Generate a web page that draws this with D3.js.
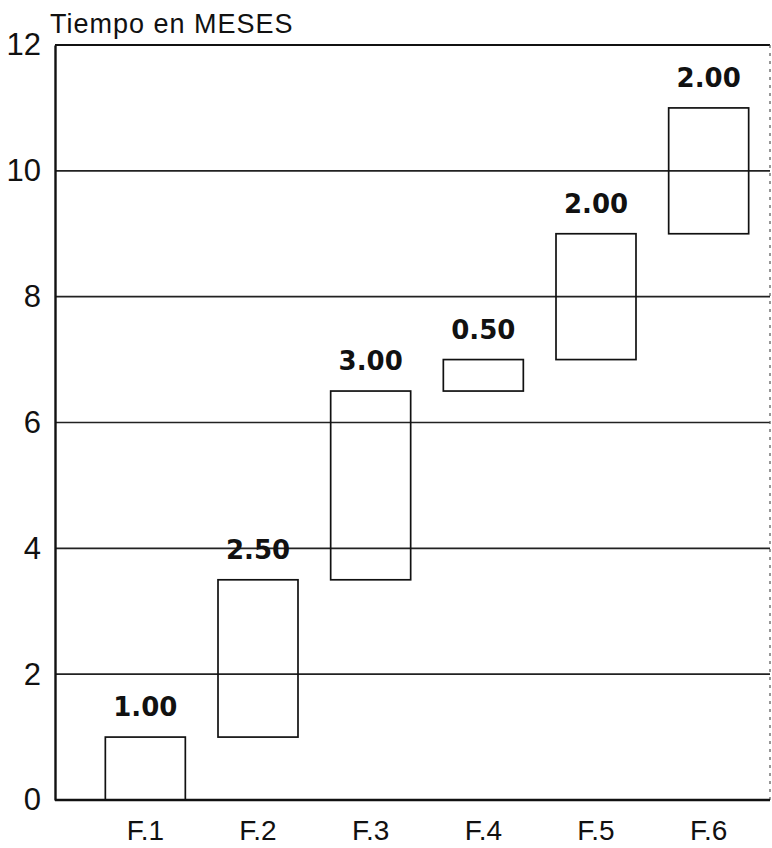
<!DOCTYPE html>
<html>
<head>
	<meta charset="utf-8">
	<script src="https://d3js.org/d3.v7.min.js"></script>
	<title>Tiempo en MESES</title>
	<style>
		body { margin: 0; background: #fff; }
	</style>
</head>
<body>
	<div id="chart"></div>

	<script type="text/javascript">
		// data
		var phases = ["F.1", "F.2", "F.3", "F.4", "F.5", "F.6"];
		var starts = [0, 1, 3.5, 6.5, 7, 9];
		var durations = [1, 2.5, 3, 0.5, 2, 2];
		var durationLabels = ["1.00", "2.50", "3.00", "0.50", "2.00", "2.00"];
		var yTicks = [0, 2, 4, 6, 8, 10, 12];

		var svgwidth = 772;
		var svgheight = 848;
		var margin = {top: 45, right: 2, bottom: 48, left: 55};
		var width = svgwidth - margin.left - margin.right;
		var height = svgheight - margin.top - margin.bottom;

		var svg = d3.select("#chart").append("svg")
			.attr("width", svgwidth)
			.attr("height", svgheight);

		var g = svg.append("g")
			.attr("transform", "translate(" + margin.left + "," + margin.top + ")");

		var x = d3.scaleBand()
			.domain(phases)
			.range([34, 710])
			.paddingInner(0.29)
			.paddingOuter(0.145);

		var y = d3.scaleLinear()
			.domain([0, 12])
			.range([height, 0]);

		// gridlines
		g.selectAll(".grid")
			.data(yTicks.filter(function(d){ return d > 0 && d < 12; }))
			.enter().append("line")
			.attr("class", "grid")
			.attr("x1", 0)
			.attr("x2", width)
			.attr("y1", function(d){ return y(d); })
			.attr("y2", function(d){ return y(d); })
			.attr("stroke", "#222")
			.attr("stroke-width", 1.6);

		// frame: top, left, bottom solid, right dashed
		g.append("line").attr("x1", 0).attr("x2", width).attr("y1", y(12)).attr("y2", y(12))
			.attr("stroke", "#111").attr("stroke-width", 2.2);
		g.append("line").attr("x1", width).attr("x2", width).attr("y1", y(12)).attr("y2", y(0))
			.attr("stroke", "#555").attr("stroke-width", 1.2).attr("stroke-dasharray", "3,5");

		// y axis
		var yAxis = g.append("g")
			.call(d3.axisLeft(y).tickValues(yTicks).tickSize(0).tickPadding(14));
		yAxis.select(".domain").attr("stroke", "#111").attr("stroke-width", 2.4);
		yAxis.selectAll("text")
			.attr("font-family", "Liberation Sans, Arial, sans-serif")
			.attr("font-size", 31)
			.attr("fill", "#111");

		// x axis
		var xAxis = g.append("g")
			.attr("transform", "translate(0," + height + ")")
			.call(d3.axisBottom(x).tickSize(0).tickPadding(20));
		xAxis.select(".domain")
			.attr("d", "M0,0H" + width)
			.attr("stroke", "#111").attr("stroke-width", 2.6);
		xAxis.selectAll("text")
			.attr("font-family", "Liberation Sans, Arial, sans-serif")
			.attr("font-size", 28)
			.attr("dy", "0.72em")
			.attr("fill", "#111");

		// floating bars
		g.selectAll(".bar")
			.data(phases).enter()
			.append("rect")
			.attr("class", "bar")
			.attr("x", function(d){ return x(d); })
			.attr("y", function(d, i){ return y(starts[i] + durations[i]); })
			.attr("width", x.bandwidth())
			.attr("height", function(d, i){ return y(starts[i]) - y(starts[i] + durations[i]); })
			.attr("fill", "none")
			.attr("stroke", "#111")
			.attr("stroke-width", 1.7);

		// duration labels
		g.selectAll(".lbl")
			.data(phases).enter()
			.append("text")
			.attr("class", "lbl")
			.attr("x", function(d){ return x(d) + x.bandwidth() / 2; })
			.attr("y", function(d, i){ return y(starts[i] + durations[i]) - 21; })
			.attr("text-anchor", "middle")
			.attr("font-family", "DejaVu Sans, sans-serif")
			.attr("font-weight", "bold")
			.attr("font-size", 26)
			.attr("fill", "#111")
			.text(function(d, i){ return durationLabels[i]; });

		// title
		svg.append("text")
			.attr("x", 50)
			.attr("y", 33)
			.attr("font-family", "Liberation Sans, Arial, sans-serif")
			.attr("font-size", 27)
			.attr("letter-spacing", 1)
			.attr("fill", "#111")
			.text("Tiempo en MESES");
	</script>
</body>
</html>
